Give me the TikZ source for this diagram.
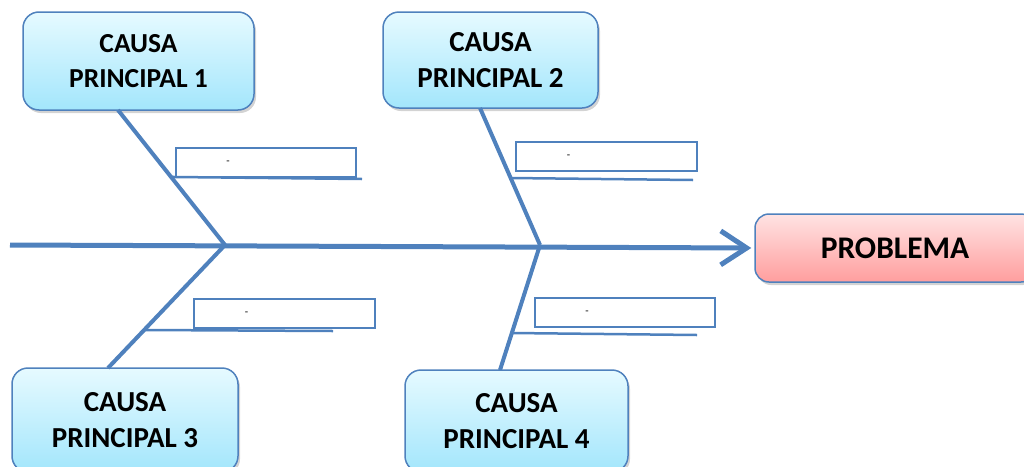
\documentclass[tikz,border=0pt]{standalone}
\usepackage{fontspec}
\setmainfont{Carlito}
\usetikzlibrary{arrows.meta,shadows,calc}
\definecolor{bone}{HTML}{4F81BD}
\definecolor{cbtop}{HTML}{E6FAFF}
\definecolor{cbbot}{HTML}{A3E6FC}
\definecolor{pbtop}{HTML}{FFE3E3}
\definecolor{pbbot}{HTML}{FF9E9E}
\tikzset{
  causebox/.style={draw=bone, line width=1.5pt, rounded corners=16pt,
    top color=cbtop, bottom color=cbbot, align=center, inner sep=0pt,
    font=\bfseries\fontsize{29}{36}\selectfont,
    drop shadow={shadow xshift=2pt, shadow yshift=-3pt, opacity=0.35}},
  probbox/.style={draw=bone, line width=1.5pt, rounded corners=14pt,
    top color=pbtop, bottom color=pbbot, align=center, inner sep=0pt,
    font=\bfseries\fontsize{31.5}{36}\selectfont,
    drop shadow={shadow xshift=2pt, shadow yshift=-3pt, opacity=0.35}},
  subbox/.style={draw=bone, line width=2pt, fill=white, inner sep=0pt,
    minimum width=180pt, minimum height=29pt, font=\fontsize{11}{12}\selectfont},
  bonel/.style={draw=bone, line width=4pt},
  subl/.style={draw=bone, line width=2.5pt},
}
\begin{document}
\begin{tikzpicture}[x=1pt,y=-1pt]
\useasboundingbox (0,0) rectangle (1024,466);
% main cause boxes
\node[causebox, minimum width=231pt, minimum height=98pt, font=\bfseries\fontsize{27.5}{35}\selectfont] (c1) at (138.5,61) {CAUSA\\PRINCIPAL 1};
\node[causebox, minimum width=215pt, minimum height=96pt] (c2) at (490.5,60) {CAUSA\\PRINCIPAL 2};
\node[causebox, minimum width=226pt, minimum height=104pt] (c3) at (125,420) {CAUSA\\PRINCIPAL 3};
\node[causebox, minimum width=223pt, minimum height=102pt] (c4) at (516.5,421) {CAUSA\\PRINCIPAL 4};
\node[probbox, minimum width=280pt, minimum height=68pt] (pb) at (895,248) {PROBLEMA};
% junctions and bone ends
\coordinate (s) at (10,245);
\coordinate (j1) at (225,245);
\coordinate (j2) at (540,245);
\coordinate (e1) at (118,110);
\coordinate (e2) at (480,108);
\coordinate (e3) at (108,368);
\coordinate (e4) at (500,370);
% spine
\draw[draw=bone, line width=5pt, -{Straight Barb[length=26pt,width=34pt,line width=5pt]}, shorten >=3pt] (s) -- (pb.west);
% bones
\draw[bonel] (e1) -- (j1);
\draw[bonel] (e2) -- (j2);
\draw[bonel] (j1) -- (e3);
\draw[bonel] (j2) -- (e4);
% sub boxes
\node[subbox] (r1) at (266,162.5) {\hspace*{-76pt}-};
\node[subbox, minimum width=181pt] (r2) at (606.5,156.5) {\hspace*{-76pt}-};
\node[subbox, minimum width=181pt] (r3) at (284.5,313.5) {\hspace*{-76pt}-};
\node[subbox] (r4) at (625,312.5) {\hspace*{-76pt}-};
% underlines from bones
\coordinate (u1a) at ($(e1)!0.496!(j1)$);
\coordinate (u1b) at (362,179);
\coordinate (u2a) at ($(e2)!0.511!(j2)$);
\coordinate (u2b) at (693,180);
\coordinate (u3a) at ($(j1)!0.691!(e3)$);
\coordinate (u3b) at (333,331);
\coordinate (u4a) at ($(j2)!0.704!(e4)$);
\coordinate (u4b) at (697,335);
\draw[subl] (u1a) -- (u1b);
\draw[subl] (u2a) -- (u2b);
\draw[subl] (u3a) -- (u3b);
\draw[subl] (u4a) -- (u4b);
\end{tikzpicture}
\end{document}
